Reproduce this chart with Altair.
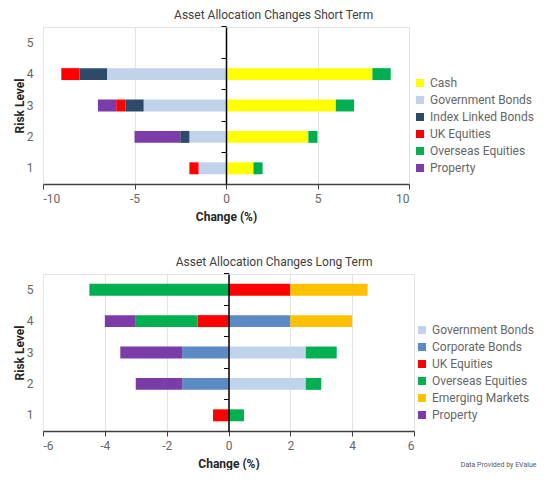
import altair as alt
import pandas as pd

levels = [1, 2, 3, 4, 5]

short_series = ["Cash", "Government Bonds", "Index Linked Bonds", "UK Equities",
                "Overseas Equities", "Property"]
short_colors = ["#FFFF00", "#C0D3EA", "#2E4A6B", "#FF0000", "#00B050", "#7B3BA8"]
short_cash = [1.5, 4.5, 6.0, 8.0, 0]
short_gov = [-1.5, -2.0, -4.5, -6.5, 0]
short_index = [0, -0.5, -1.0, -1.5, 0]
short_uk = [-0.5, 0, -0.5, -1.0, 0]
short_overseas = [0.5, 0.5, 1.0, 1.0, 0]
short_property = [0, -2.5, -1.0, 0, 0]

long_series = ["Government Bonds", "Corporate Bonds", "UK Equities",
               "Overseas Equities", "Emerging Markets", "Property"]
long_colors = ["#C0D3EA", "#5B8AC5", "#FF0000", "#00B050", "#FFC000", "#7B3BA8"]
long_gov = [0, 2.5, 2.5, 0, 0]
long_corp = [0, -1.5, -1.5, 2.0, 0]
long_uk = [-0.5, 0, 0, -1.0, 2.0]
long_overseas = [0.5, 0.5, 1.0, -2.0, -4.5]
long_emerging = [0, 0, 0, 2.0, 2.5]
long_property = [0, -1.5, -2.0, -1.0, 0]


def build(series, columns):
    rows = []
    for i, (name, vals) in enumerate(zip(series, columns)):
        for lvl, v in zip(levels, vals):
            if v != 0:
                rows.append({"Level": lvl, "Asset": name, "Change": v, "ord": i})
    return pd.DataFrame(rows)


short_df = build(short_series, [short_cash, short_gov, short_index, short_uk,
                                short_overseas, short_property])
long_df = build(long_series, [long_gov, long_corp, long_uk, long_overseas,
                              long_emerging, long_property])

LABEL = "#666666"
TITLE = "#262626"
PLOT_H = 157


def panel(df, series, colors, title, domain, ticks, width, legend_x):
    y_scale = alt.Scale(domain=[5, 4, 3, 2, 1], paddingInner=0.62, paddingOuter=0.31)
    bars = alt.Chart(df).mark_bar().encode(
        x=alt.X("Change:Q", stack="zero",
                scale=alt.Scale(domain=domain, nice=False),
                axis=alt.Axis(values=ticks, title="Change (%)", grid=True,
                              gridColor="#e3e3e3", domainColor="#404040",
                              domainWidth=1.5, tickColor="#404040", tickSize=5,
                              labelPadding=4, labelFontSize=12, labelColor=LABEL,
                              labelExpr="'' + datum.value",
                              titleFontSize=12, titleFontWeight="bold",
                              titleColor=TITLE, titlePadding=7)),
        y=alt.Y("Level:O", scale=y_scale,
                axis=alt.Axis(title="Risk Level", domain=False, ticks=False,
                              labelPadding=10, labelFontSize=12, labelColor=LABEL,
                              labelAngle=0, titleFontSize=12, titleFontWeight="bold",
                              titleColor=TITLE, titlePadding=0)),
        color=alt.Color("Asset:N", scale=alt.Scale(domain=series, range=colors),
                        legend=alt.Legend(title=None, orient="none", legendX=legend_x,
                                          legendY=50, symbolType="square",
                                          symbolSize=64, symbolStrokeWidth=0,
                                          labelFontSize=12, labelColor=LABEL,
                                          rowPadding=5, labelOffset=4, padding=0)),
        order=alt.Order("ord:Q"),
    )
    zero = alt.Chart(df).mark_point(opacity=0).encode(
        y=alt.Y("Level:O", scale=y_scale,
                axis=alt.Axis(orient="left", offset=-width / 2, labels=False,
                              title=None, domainColor="black", domainWidth=1.5,
                              tickColor="black", tickSize=5, bandPosition=-0.816,
                              grid=False, zindex=1)),
    )
    return alt.layer(bars, zero).resolve_axis(y="independent").properties(
        width=width, height=PLOT_H,
        title=alt.TitleParams(title, fontSize=12, fontWeight="normal", color="#404040",
                              anchor="middle", frame="bounds", offset=4),
    )


top = panel(short_df, short_series, short_colors, "Asset Allocation Changes Short Term",
            [-10, 10], [-10, -5, 0, 5, 10], 366, 371)
bottom = panel(long_df, long_series, long_colors, "Asset Allocation Changes Long Term",
               [-6, 6], [-6, -4, -2, 0, 2, 4, 6], 371, 373)

chart = alt.vconcat(top, bottom, spacing=32).resolve_scale(color="independent").properties(
    title=alt.TitleParams("Data Provided by EValue", orient="bottom", anchor="end",
                          fontSize=7, color="#595959", fontWeight="normal", offset=-9,
                          dx=1),
).configure(
    font="Roboto", padding={"left": 4, "top": 0, "right": 0, "bottom": 0}
).configure_view(stroke="#e3e3e3")

chart.save("out.html", embed_options={"renderer": "svg", "actions": False})
